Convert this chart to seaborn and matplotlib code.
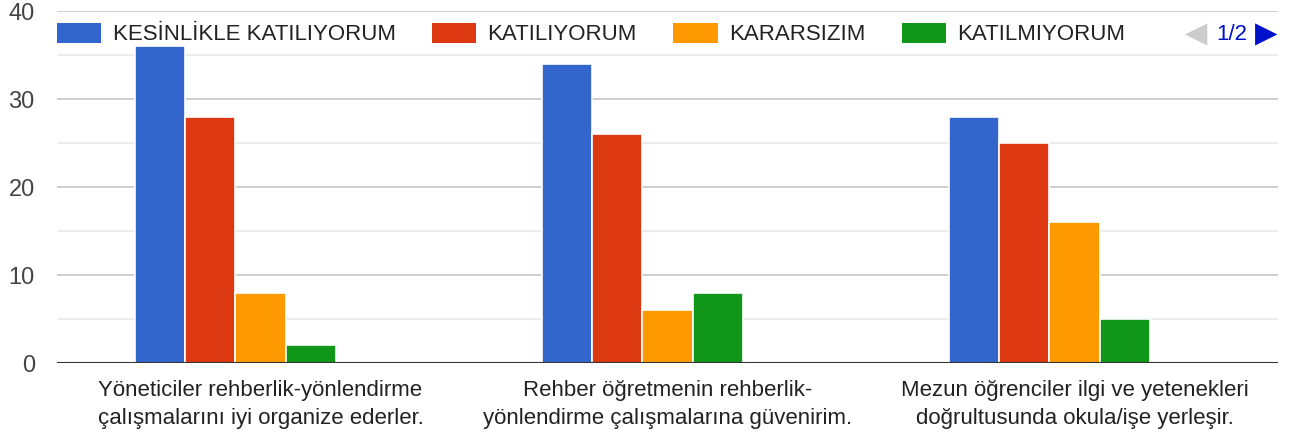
import matplotlib
matplotlib.use("Agg")
import matplotlib.pyplot as plt
from matplotlib.patches import Patch
import seaborn as sns
import pandas as pd

# Data
questions = [
    "Yöneticiler rehberlik-yönlendirme\nçalışmalarını iyi organize ederler.",
    "Rehber öğretmenin rehberlik-\nyönlendirme çalışmalarına güvenirim.",
    "Mezun öğrenciler ilgi ve yetenekleri\ndoğrultusunda okula/işe yerleşir.",
]
answers = ["KESİNLİKLE KATILIYORUM", "KATILIYORUM", "KARARSIZIM",
           "KATILMIYORUM", "KESİNLİKLE KATILMIYORUM"]
kesinlikle_katiliyorum = [36, 34, 28]
katiliyorum = [28, 26, 25]
kararsizim = [8, 6, 16]
katilmiyorum = [2, 8, 5]
kesinlikle_katilmiyorum = [0, 0, 0]
colors = ["#3366CC", "#DC3912", "#FF9900", "#109618", "#990099"]

series = [kesinlikle_katiliyorum, katiliyorum, kararsizim, katilmiyorum,
          kesinlikle_katilmiyorum]
rows = []
for ans, vals in zip(answers, series):
    for q, v in zip(questions, vals):
        rows.append({"soru": q, "cevap": ans, "sayi": v})
df = pd.DataFrame(rows)

sns.set_style("white")
plt.rcParams['font.family'] = ['Liberation Sans', 'DejaVu Sans']

fig = plt.figure(figsize=(12.96, 4.43), dpi=100)
ax = fig.add_axes([57 / 1296, 80 / 443, (1278 - 57) / 1296, (363 - 11) / 443])

sns.barplot(data=df, x="soru", y="sayi", hue="cevap", order=questions,
            hue_order=answers, palette=colors, width=0.615, saturation=1,
            edgecolor="white", linewidth=1.2, ax=ax, legend=False, zorder=3)

ax.set_ylim(0, 40)
ax.set_xlim(-0.5, 2.5)
ax.set_yticks([0, 10, 20, 30, 40])
ax.set_yticks([5, 15, 25, 35], minor=True)
ax.grid(axis="y", which="major", color="#cccccc", linewidth=1.3, zorder=0)
ax.grid(axis="y", which="minor", color="#ebebeb", linewidth=1.3, zorder=0)
ax.axhline(0, color="#333333", linewidth=1.5, zorder=4)
for s in ax.spines.values():
    s.set_visible(False)
ax.set_xlabel("")
ax.set_ylabel("")
ax.tick_params(axis="y", which="both", length=0, pad=16, labelsize=17,
               labelcolor="#444444")
ax.tick_params(axis="x", length=0, pad=12, labelsize=16, labelcolor="#222222")
for lbl in ax.get_xticklabels():
    lbl.set_linespacing(1.45)

handles = [Patch(facecolor=c, edgecolor="none") for c in colors[:4]]
leg = ax.legend(handles, answers[:4], loc="center left", ncol=4,
                bbox_to_anchor=(0.0, 0.9345), frameon=False, fontsize=16,
                handlelength=2.0, handleheight=1.0, handletextpad=0.5,
                columnspacing=1.64, borderaxespad=0.0, borderpad=0.0)
for t in leg.get_texts():
    t.set_color("#222222")

ax.text(0.9328, 0.9345, "◀", transform=ax.transAxes, fontsize=21,
        color="#cccccc", ha="center", va="center")
ax.text(0.9623, 0.9345, "1/2", transform=ax.transAxes, fontsize=16,
        color="#0011cc", ha="center", va="center")
ax.text(0.9906, 0.9345, "▶", transform=ax.transAxes, fontsize=21,
        color="#0011cc", ha="center", va="center")

fig.savefig("out.png", dpi=100, facecolor="white")
